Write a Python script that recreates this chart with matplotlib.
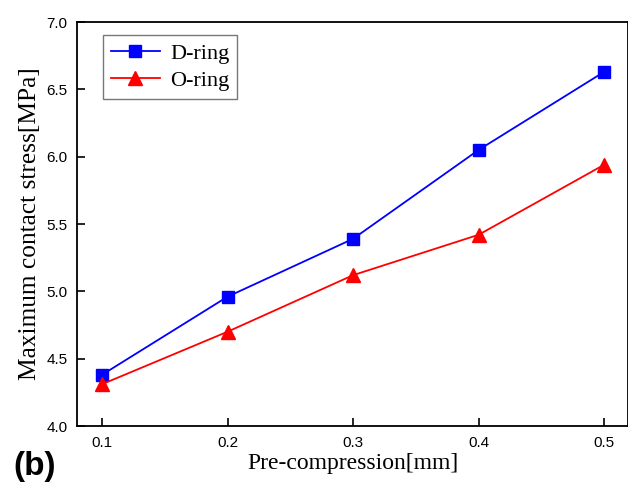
import matplotlib
matplotlib.use("Agg")
import matplotlib.pyplot as plt

# Pre-compression (mm) and peak contact stress (MPa)
pre_compression = [0.1, 0.2, 0.3, 0.4, 0.5]
d_ring_stress = [4.38, 4.96, 5.39, 6.05, 6.63]
o_ring_stress = [4.31, 4.70, 5.12, 5.42, 5.94]

x_ticks = [0.1, 0.2, 0.3, 0.4, 0.5]
y_ticks = [4.0, 4.5, 5.0, 5.5, 6.0, 6.5, 7.0]

serif = "Liberation Serif"
sans = "Liberation Sans"

fig = plt.figure(figsize=(6.28, 4.84), dpi=100)
ax = fig.add_axes([77 / 628, 58 / 484, 551 / 628, 404 / 484])

ax.plot(pre_compression, d_ring_stress, color="#0000ff", lw=1.3,
        marker="s", markersize=9, label="D-ring")
ax.plot(pre_compression, o_ring_stress, color="#ff0000", lw=1.3,
        marker="^", markersize=10, label="O-ring")

ax.set_xlim(0.0801, 0.519)
ax.set_ylim(4.0, 7.0)
ax.set_xticks(x_ticks)
ax.set_yticks(y_ticks)
ax.set_xticklabels([f"{v:.1f}" for v in x_ticks], fontname=sans, fontsize=11)
ax.set_yticklabels([f"{v:.1f}" for v in y_ticks], fontname=sans, fontsize=11)
ax.tick_params(direction="in", length=6, width=1.2, top=False, right=False, pad=7)

for side in ["left", "bottom", "top", "right"]:
    ax.spines[side].set_linewidth(1.3)

ax.set_xlabel("Pre-compression[mm]", fontname=serif, fontsize=17, labelpad=2)
ax.set_ylabel("Maximum contact stress[MPa]", fontname=serif, fontsize=18.3, labelpad=4)

leg = ax.legend(loc="upper left", bbox_to_anchor=(26 / 551, 1 - 13 / 404),
                prop={"family": serif, "size": 16}, fancybox=False,
                frameon=True, borderpad=0.36, handlelength=2.2,
                labelspacing=0.32, handletextpad=0.45, borderaxespad=0)
leg.get_frame().set_edgecolor("#555555")
leg.get_frame().set_linewidth(1.0)

fig.text(35 / 628, 1 - 467 / 484, "(b)", fontname=sans, fontweight="bold",
         fontsize=24, ha="center", va="center")

fig.savefig("out.png", dpi=100)
